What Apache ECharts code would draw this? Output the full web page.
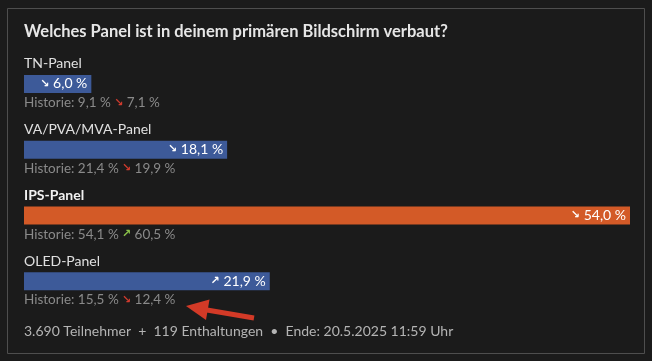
<!DOCTYPE html>
<html><head><meta charset="utf-8">
<script src="https://cdn.jsdelivr.net/npm/echarts@6/dist/echarts.min.js"></script>
<style>html,body{margin:0;padding:0;background:#1b1b1b;}#c{width:652px;height:361px;}</style>
</head><body><div id="c"></div>
<script>
const title = 'Welches Panel ist in deinem primären Bildschirm verbaut?';
const categories = ['TN-Panel', 'VA/PVA/MVA-Panel', 'IPS-Panel', 'OLED-Panel'];
const values = [6.0, 18.1, 54.0, 21.9];
const trends = ['down', 'down', 'down', 'up'];
const histPrev = [9.1, 21.4, 54.1, 15.5];
const histLast = [7.1, 19.9, 60.5, 12.4];
const histTrend = ['down', 'down', 'up', 'down'];
const highlighted = [false, false, true, false];
const footer = '3.690 Teilnehmer  +  119 Enthaltungen  •  Ende: 20.5.2025 11:59 Uhr';

const FONT = 'Lato, "Noto Sans", sans-serif';
const ARROW_FONT = 'bold 11px "DejaVu Sans", sans-serif';
const fmt = v => v.toFixed(1).replace('.', ',') + ' %';
const arrow = t => t === 'up' ? '↗' : '↘';

const chart = echarts.init(document.getElementById('c'), null, {renderer: 'canvas'});
chart.setOption({
  backgroundColor: '#1b1b1b',
  animation: false,
  grid: {left: 24, right: 22, top: 51, bottom: 47},
  xAxis: {type: 'value', min: 0, max: Math.max(...values), show: false},
  yAxis: {type: 'category', data: categories, inverse: true, show: false},
  graphic: [
    {type: 'rect', shape: {x: 7.5, y: 8.5, width: 637, height: 345}, style: {fill: 'none', stroke: '#4e4e4e', lineWidth: 1}, z: 0},
    {type: 'text', x: 24, y: 32, style: {text: title, fill: '#e6e6e6', font: 'bold 16.5px ' + FONT, verticalAlign: 'middle'}},
    {type: 'text', x: 24, y: 331, style: {text: footer, fill: '#b4b4b4', font: '14px ' + FONT, verticalAlign: 'middle'}},
    {type: 'line', shape: {x1: 204, y1: 309.5, x2: 254, y2: 318}, style: {stroke: '#d33a27', lineWidth: 5}},
    {type: 'polygon', shape: {points: [[186, 306], [209.5, 299.5], [206, 320]]}, style: {fill: '#d33a27'}}
  ],
  series: [
    {
      type: 'bar',
      data: values.map((v, i) => ({value: v, itemStyle: {color: highlighted[i] ? '#d35a27' : '#3d5a99'}})),
      barWidth: 18,
      silent: true,
      label: {
        show: true, position: 'insideRight', distance: 4,
        color: '#ffffff', fontFamily: FONT, fontSize: 14,
        formatter: p => '{a|' + arrow(trends[p.dataIndex]) + '} ' + fmt(p.value),
        rich: {a: {color: '#ffffff', fontFamily: '"DejaVu Sans"', fontWeight: 'bold', fontSize: 11}}
      }
    },
    {
      type: 'custom',
      silent: true,
      clip: false,
      data: categories.map((c, i) => [0, i]),
      encode: {x: 0, y: 1},
      renderItem: (params, api) => {
        const i = api.value(1);
        const p = api.coord([0, i]);
        const col = histTrend[i] === 'up' ? '#8bc34a' : '#d13b2e';
        return {
          type: 'group',
          children: [
            {type: 'text', x: p[0], y: p[1] - 20, style: {
              text: categories[i], fill: highlighted[i] ? '#f2f2f2' : '#e0e0e0',
              font: (highlighted[i] ? 'bold ' : '') + '14px ' + FONT, verticalAlign: 'middle'}},
            {type: 'text', x: p[0], y: p[1] + 19, style: {
              text: '{g|Historie: ' + fmt(histPrev[i]) + '} {a|' + arrow(histTrend[i]) + '} {g|' + fmt(histLast[i]) + '}',
              verticalAlign: 'middle',
              rich: {
                g: {fill: '#8a8a8a', font: '13.5px ' + FONT},
                a: {fill: col, font: ARROW_FONT}
              }}}
          ]
        };
      }
    }
  ]
});
</script></body></html>
